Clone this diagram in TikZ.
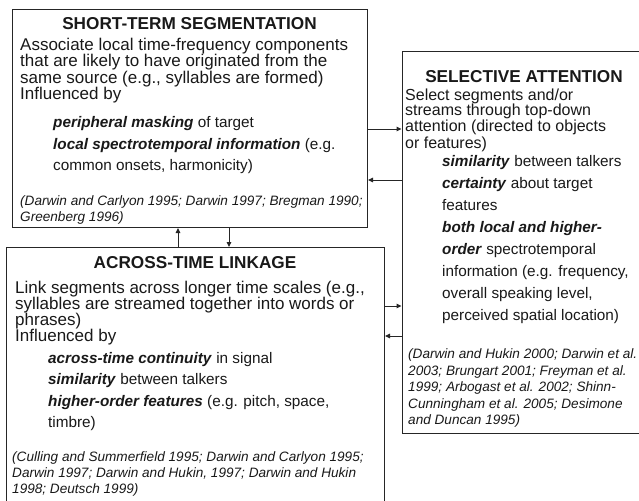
\documentclass[tikz,border=0pt]{standalone}
\usepackage{fontspec}
\setmainfont{Liberation Sans}
\usetikzlibrary{arrows.meta}
% keep the baseline distance fixed, whatever the line contents
\lineskiplimit=-100pt
\newcommand{\bfit}[1]{\textbf{\textit{#1}}}
% a block of left-aligned lines; its baseline is that of the first line
\newcommand{\lines}[1]{\vtop{\let\\\cr\halign{##\hfil\cr #1\crcr}}}

\begin{document}
\begin{tikzpicture}[x=1pt,y=-1pt,
  frame/.style={draw=black!85, line width=1pt, inner sep=0pt, anchor=north west},
  heading/.style={font=\bfseries\fontsize{17.2}{17}\selectfont, anchor=base, inner sep=0pt, text=black!90},
  textblock/.style={anchor=base west, inner sep=0pt, text=black!90},
  bodyA/.style={textblock, font=\fontsize{17}{16.2}\selectfont},
  bodyB/.style={textblock, font=\fontsize{16}{16}\selectfont},
  items/.style={textblock, font=\fontsize{15.3}{21.5}\selectfont},
  refs/.style={textblock, font=\itshape\fontsize{13.6}{16}\selectfont},
  link/.style={draw=black!85, line width=1pt, -{Triangle[length=5pt,width=4.5pt]}}]

\path[use as bounding box, clip] (0,0) rectangle (639,500);
\fill[white] (0,0) rectangle (639,500);

% the three boxes
\node[frame, minimum width=355pt, minimum height=217.5pt] (seg) at (12,9.5) {};
\node[frame, minimum width=378pt, minimum height=262pt] (across) at (6,247) {};
\node[frame, minimum width=245pt, minimum height=382pt] (att) at (401.5,51) {};

% short-term segmentation
\node[heading] (segT) at (189.5,30) {SHORT-TERM SEGMENTATION};
\node[bodyA] (segB) at (20,50.7) {\lines{Associate local time-frequency components\\
that are likely to have originated from the\\
same source (e.g., syllables are formed)\\
Influenced by}};
\node[items] (segI) at (53,128) {\lines{\bfit{peripheral masking} of target\\
\bfit{local spectrotemporal information} (e.g.\\
common onsets, harmonicity)}};
\node[refs] (segR) at (20,205) {\lines{(Darwin and Carlyon 1995; Darwin 1997; Bregman 1990;\\
Greenberg 1996)}};

% across-time linkage
\node[heading] (acrT) at (195,268) {ACROSS-TIME LINKAGE};
\node[bodyA] (acrB) at (15,293) {\lines{Link segments across longer time scales (e.g.,\\
syllables are streamed together into words or\\
phrases)\\
Influenced by}};
\node[items] (acrI) at (48,363) {\lines{\bfit{across-time continuity} in signal\\
\bfit{similarity} between talkers\\
\bfit{higher-order features} (e.g. pitch, space,\\
timbre)}};
\node[refs] (acrR) at (12,461) {\lines{(Culling and Summerfield 1995; Darwin and Carlyon 1995;\\
Darwin 1997; Darwin and Hukin, 1997; Darwin and Hukin\\
1998; Deutsch 1999)}};

% selective attention
\node[heading] (attT) at (524,83) {SELECTIVE ATTENTION};
\node[bodyB] (attB) at (405,100) {\lines{Select segments and/or\\
streams through top-down\\
attention (directed to objects\\
or features)}};
\node[items, font=\fontsize{15.3}{22}\selectfont] (attI) at (442,166) {\lines{\bfit{similarity} between talkers\\
\bfit{certainty} about target\\
features\\
\bfit{both local and higher-}\\
\bfit{order} spectrotemporal\\
information (e.g. frequency,\\
overall speaking level,\\
perceived spatial location)}};
\node[refs, font=\itshape\fontsize{13.6}{16.6}\selectfont] (attR) at (408,358.5) {\lines{(Darwin and Hukin 2000; Darwin et al.\\
2003; Brungart 2001; Freyman et al.\\
1999; Arbogast et al. 2002; Shinn-\\
Cunningham et al. 2005; Desimone\\
and Duncan 1995)}};

% connector heights and positions
\coordinate (h1) at (0,129);
\coordinate (h2) at (0,180);
\coordinate (h3) at (0,306);
\coordinate (h4) at (0,336);
\coordinate (v1) at (178,0);
\coordinate (v2) at (229,0);

\draw[link] (seg.east |- h1) -- (att.west |- h1);
\draw[link] (att.west |- h2) -- (seg.east |- h2);
\draw[link] (across.north -| v1) -- (seg.south -| v1);
\draw[link] (seg.south -| v2) -- (across.north -| v2);
\draw[link] (across.east |- h3) -- (att.west |- h3);
\draw[link] (att.west |- h4) -- (across.east |- h4);
\end{tikzpicture}
\end{document}
